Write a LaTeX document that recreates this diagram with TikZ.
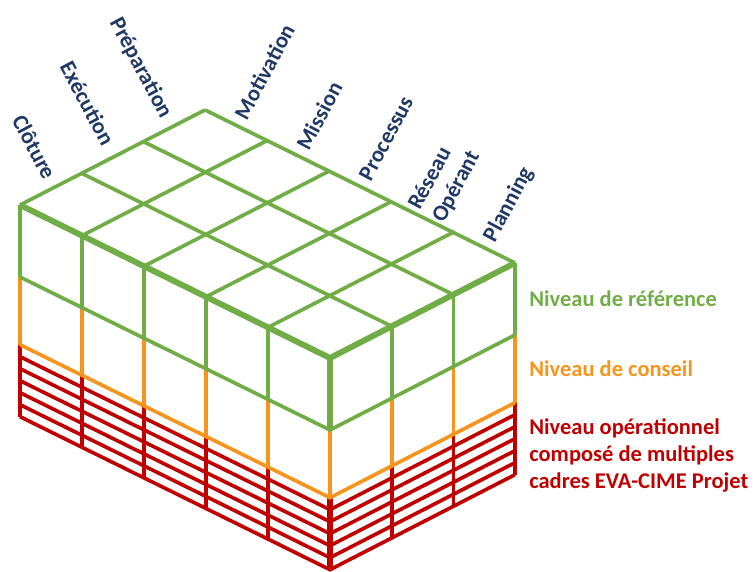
\documentclass[tikz,border=0pt]{standalone}
\usepackage{fontspec}
\setmainfont{Carlito}
\usetikzlibrary{calc}
\definecolor{evagreen}{HTML}{70AD47}
\definecolor{evaorange}{HTML}{F7941E}
\definecolor{evared}{HTML}{C00000}
\definecolor{evablue}{HTML}{1F3864}

\begin{document}
\begin{tikzpicture}[
        x={(1.55cm,-0.765cm)}, y={(1.542cm,0.792cm)}, z={(0cm,1.8cm)},
        every node/.style={font=\fontsize{16}{19.2}\selectfont\bfseries},
        g/.style={draw=evagreen, line width=2.6pt},
        gv/.style={g, line width=3pt},
        gb/.style={g, line width=4.2pt},
        o/.style={draw=evaorange, line width=2.6pt},
        r/.style={draw=evared, line width=2.6pt},
        rb/.style={r, line width=3.8pt},
        axl/.style={rotate=-62, anchor=base east, inner sep=0pt, text=evablue},
        axr/.style={rotate=62, anchor=base west, inner sep=0pt, align=left,
          text=evablue},
        lvl/.style={anchor=west, align=left, inner sep=0pt, xshift=0.35cm},
      ]
      \useasboundingbox (-0.5cm,-9.175cm) rectangle (18.325cm,5.125cm);

      % red layer
      \foreach \i in {0,...,4} \draw[r] (\i,0,-1.94) -- (\i,0,-2.94);
      \foreach \j in {1,2,3} \draw[r] (5,\j,-1.94) -- (5,\j,-2.94);
      \foreach \k in {1,...,6}
        \draw[r] (0,0,{-1.94-\k/6}) -- (5,0,{-1.94-\k/6}) -- (5,3,{-1.94-\k/6});
      \draw[rb] (5,0,-1.94) -- (5,0,-2.94);

      % orange layer
      \foreach \i in {0,...,5} \draw[o] (\i,0,-1) -- (\i,0,-1.94);
      \foreach \j in {1,2,3} \draw[o] (5,\j,-1) -- (5,\j,-1.94);
      \draw[o] (0,0,-1.94) -- (5,0,-1.94) -- (5,3,-1.94);

      % green layer
      \foreach \i in {0,...,4} \draw[gv] (\i,0,0) -- (\i,0,-1);
      \foreach \j in {1,2,3} \draw[g] (5,\j,0) -- (5,\j,-1);
      \draw[g] (0,0,-1) -- (5,0,-1) -- (5,3,-1);
      \foreach \i in {0,...,4} \draw[g] (\i,0,0) -- (\i,3,0);
      \foreach \j in {1,2,3} \draw[g] (0,\j,0) -- (5,\j,0);
      \draw[gb] (0,0,0) -- (5,0,0) -- (5,3,0);
      \draw[gb] (5,0,0) -- (5,0,-1);

      % axes
      \node[axl] (cloture) at ($(0,0.5,0)+(-0.18cm,0.2cm)$) {Clôture};
      \node[axl] (execution) at ($(0,1.5,0)+(-0.26cm,0.25cm)$) {Exécution};
      \node[axl] (preparation) at ($(0,2.5,0)+(-0.33cm,0.15cm)$) {Préparation};
      \node[axr] (motivation) at ($(0.5,3,0)+(0.27cm,0.1cm)$) {Motivation};
      \node[axr] (mission) at ($(1.5,3,0)+(0.27cm,0.1cm)$) {Mission};
      \node[axr] (processus) at ($(2.5,3,0)+(0.27cm,0.1cm)$) {Processus};
      \node[axr] (reseau) at ($(3.5,3,0)+(0.54cm,-0.17cm)$) {Réseau\\Opérant};
      \node[axr] (planning) at ($(4.5,3,0)+(0.27cm,0.1cm)$) {Planning};

      % levels
      \node[lvl, text=evagreen] (reference) at (5,3,-0.5) {Niveau de référence};
      \node[lvl, text=evaorange] (conseil) at (5,3,-1.47) {Niveau de conseil};
      \node[lvl, text=evared, yshift=-0.42cm] (operationnel) at (5,3,-2.44)
        {Niveau opérationnel\\composé de multiples\\cadres EVA-CIME Projet};
    \end{tikzpicture}
\end{document}
